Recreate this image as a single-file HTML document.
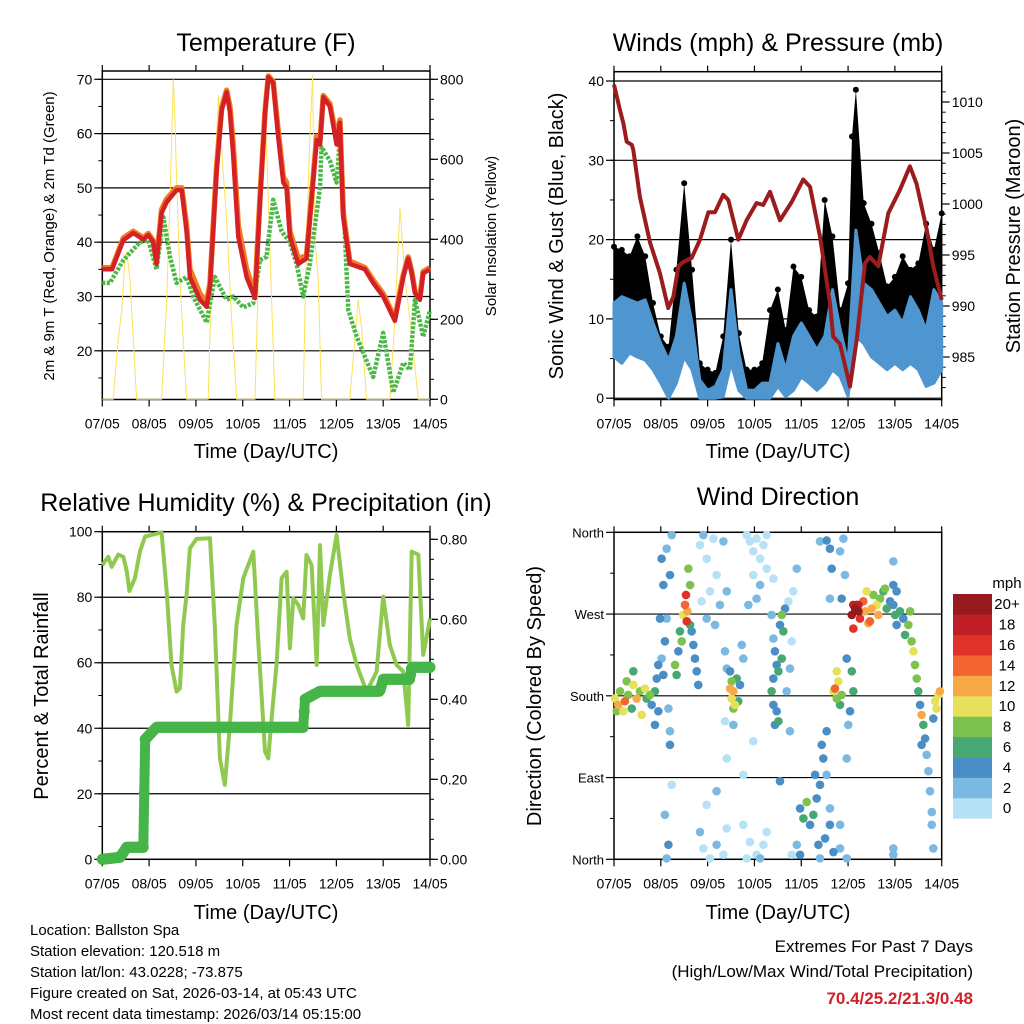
<!DOCTYPE html>
<html><head><meta charset="utf-8"><style>
html,body{margin:0;padding:0;background:#fff;}
svg{display:block;font-family:"Liberation Sans",sans-serif;}
</style></head><body>
<svg id="fig" width="1024" height="1024" viewBox="0 0 1024 1024" xmlns="http://www.w3.org/2000/svg">
<g id="txt" fill="#000">
<text x="266" y="51" font-size="25" text-anchor="middle">Temperature (F)</text>
<text x="778" y="51" font-size="25" text-anchor="middle">Winds (mph) &amp; Pressure (mb)</text>
<text x="266" y="511" font-size="25" text-anchor="middle">Relative Humidity (%) &amp; Precipitation (in)</text>
<text x="778" y="505" font-size="25" text-anchor="middle">Wind Direction</text>
<text x="266" y="458" font-size="20" text-anchor="middle">Time (Day/UTC)</text>
<text x="778" y="458" font-size="20" text-anchor="middle">Time (Day/UTC)</text>
<text x="266" y="919" font-size="20" text-anchor="middle">Time (Day/UTC)</text>
<text x="778" y="919" font-size="20" text-anchor="middle">Time (Day/UTC)</text>
<text transform="translate(54,236) rotate(-90)" font-size="15" text-anchor="middle">2m &amp; 9m T (Red, Orange) &amp; 2m Td (Green)</text>
<text transform="translate(496,236) rotate(-90)" font-size="15" text-anchor="middle">Solar Insolation (Yellow)</text>
<text transform="translate(563,236) rotate(-90)" font-size="20" text-anchor="middle">Sonic Wind &amp; Gust (Blue, Black)</text>
<text transform="translate(1020,236) rotate(-90)" font-size="20" text-anchor="middle">Station Pressure (Maroon)</text>
<text transform="translate(48,696) rotate(-90)" font-size="20" text-anchor="middle">Percent &amp; Total Rainfall</text>
<text transform="translate(541,696) rotate(-90)" font-size="20" text-anchor="middle">Direction (Colored By Speed)</text>
<g font-size="15">
<text x="30" y="935">Location: Ballston Spa</text>
<text x="30" y="956">Station elevation: 120.518 m</text>
<text x="30" y="977">Station lat/lon: 43.0228; -73.875</text>
<text x="30" y="998">Figure created on Sat, 2026-03-14, at 05:43 UTC</text>
<text x="30" y="1019">Most recent data timestamp: 2026/03/14 05:15:00</text>
</g>
<text x="973" y="952" font-size="17" text-anchor="end">Extremes For Past 7 Days</text>
<text x="973" y="977" font-size="17" text-anchor="end">(High/Low/Max Wind/Total Precipitation)</text>
<text x="973" y="1004" font-size="17" font-weight="bold" fill="#d0222a" text-anchor="end">70.4/25.2/21.3/0.48</text>
<text x="1007" y="588" font-size="15" text-anchor="middle">mph</text>
</g>
</svg>
<script>
// ---------- data ----------
const dayLabels=["07/05","08/05","09/05","10/05","11/05","12/05","13/05","14/05"];
const tempT=[0,5,10.8,15.9,21.0,23.6,26.1,27.8,30.4,33.0,38.1,40.7,43.2,44.9,50.1,53.5,55.2,58.6,61.2,63.7,65.4,67.1,69.7,74.0,78.3,80.8,83.4,85.1,87.6,90.2,92.8,94.5,96.2,100.5,104.7,109.9,111.6,113.3,116.7,120.1,121.8,123.5,126.9,134.6,138.9,144.0,150.0,154.3,156.8,158.6,160.3,162.8,164.5,168];
const tempRed=[35,35,40.4,41.7,40.5,41.3,40,36,45.4,47.4,49.6,49.6,42,33.6,29.4,28.1,31.8,53,64.3,67.6,64,56,41,33.6,29.7,47,63.7,70.4,69.3,59.4,51,50,41,36,37,58.8,58,66.7,65,58,62,44.6,36,35,32.5,30,25.5,33.6,37,34.3,30.6,29.4,34.3,35];
const tempOrange=[35.3,35.3,40.8,42,40.8,41.6,40.3,36.5,46,48,50,50,43,35,30.5,29,32.5,54,64.8,68,65,58,43,35,30.5,48,64,70.6,69.6,60.5,52,51,42,37,37.5,59.5,58.5,67,65.5,59,62.5,45.5,36.5,35.3,33,30.5,26,34,37.3,34.6,31,29.8,34.6,35.3];
const dewT=[0,3.9,10.8,19.3,23.6,27.8,31.3,34.7,38.1,43.2,46.6,53.5,57.7,63.7,67.1,72.3,77.4,80.8,84.2,87.6,91.9,96.2,99.6,103.0,106.4,111.6,112.4,116.7,120.1,121.8,123.5,126.1,130.4,138.9,144.0,149.2,154.3,157.7,160.3,164.5,168];
const dewV=[32.5,32.5,36.7,40,40.4,35,44.6,37.3,32.5,33.6,30,25.2,33.6,29.4,30,28,28.8,36.7,37.3,47.8,42,40,36,30,36,50,57.5,55,51,58.8,48.3,27.5,22.6,15.2,23.3,12.3,17.8,16.5,29.4,22.6,27.5];
const solarT=[0,5.6,8.2,9.9,11.6,12.5,14.2,15.9,17.6,30.4,33.0,34.7,36.4,37.2,38.1,39.8,41.5,43.2,54.3,56.0,57.7,59.5,61.2,63.7,66.3,68.9,78.3,80.0,81.7,83.4,85.1,86.8,88.5,103,104.7,106.4,107.8,109,110.7,112.4,126.9,129.5,131.2,132.9,135.5,147.4,150,152.6,155.2,157.7,160.3,162,168];
const solarV=[0,0,150,220,350,370,300,150,0,0,250,500,800,700,550,300,150,0,0,300,550,760,620,450,200,0,0,300,600,740,500,250,0,0,400,650,810,400,300,0,0,150,250,180,0,0,200,480,300,200,80,0,0];
const windT=[0,4,8,12,16,20,24,28,32,36,40,44,48,52,56,60,64,68,72,76,80,84,88,92,96,100,104,108,112,116,120,122,124,128,132,136,140,144,148,152,156,160,164,168];
const windLo=[5.2,4.4,5.7,5.2,4.8,3.6,1.9,0,1.9,5.2,3.6,0,0,0,0.2,4.4,1,0,0,0,0,1.5,0.2,1,2.7,1.9,1,1.9,3.6,2.7,0.2,4.4,7.8,6.9,5.2,4.4,3.6,4.4,3.6,4.4,3.6,1.5,1.9,3.6];
const windHi=[12,12.8,12.4,12,12.4,9.5,6.9,4.8,7.8,14.5,9.5,2.3,1,1.5,3.6,13.7,5.7,1,1,1.9,1.9,6.9,3.6,7.8,9.5,7.8,6.1,7.8,13.7,8.6,4.4,12.8,21.2,14.5,13.7,12,10.3,11.1,9.5,12.8,11.1,8.6,13.7,12];
const gustHi=[19.1,18.7,17.9,20.4,17.9,12,7.8,6.5,16.2,27.1,16.2,4.4,3.6,3.2,7.8,20,8.2,3.6,3.6,4.4,11.1,13.7,8.6,16.6,15.3,11.1,10.3,25,20.4,11.1,14.5,33,38.9,24.6,22,18.3,14.1,15.3,17.9,16.2,17,22,18.7,23.3];
const presT=[0,3.1,4.8,6.5,9.1,9.9,13.3,18.5,23.6,27.8,30.4,33.0,35.5,39.8,44.1,48.4,51.8,56.0,58.6,63.7,68.0,73.1,76.5,80.0,85.1,91.1,97.0,100.5,105.6,110.7,112.4,115.8,121,124.4,128.7,131.2,135.5,140.6,146.6,151.7,155.1,160.3,163.7,168];
const presV=[1011.7,1009.2,1007.9,1006.1,1005.8,1005.3,1000.7,996.2,993.2,989.8,990.9,993.9,994.3,994.7,996.5,999.2,999.2,1000.9,1000.4,996.5,998.4,1000.1,999.9,1001.2,998.4,1000.2,1002.4,1001.7,996.8,990.3,987,986.3,982.1,986.7,994.2,994.8,993.9,999.1,1001.4,1003.7,1002,997.5,993.9,990.6];
const rhT=[0,3.1,4.8,8.2,10.8,12.5,13.9,16.7,19.3,21.9,30.4,33,35.5,38.1,39.8,41.5,43.2,44.9,48.3,55.2,57.7,60.3,62.8,65.4,68.8,72.3,77.4,80,83.4,85.1,86.8,89.3,91.9,94.5,96.2,97.9,100.5,103,104.7,107.3,109.9,111.6,113.3,116.7,120.1,123.5,126.9,130.4,135.5,140.6,144,147.4,150.9,154.3,156.8,158.6,162,164.5,168];
const rhV=[89.8,92.3,89.3,93,92.3,88,81.9,85.8,93.9,98.5,99.8,81.7,59.3,51.2,52.2,71.5,80.7,94.9,97.8,98,71.5,30.8,22.7,41,71.5,85.8,93.9,66.4,32.9,30.8,43,59.3,85.8,87.8,64.4,79.7,77.6,73.5,92.9,89.8,59.3,95.9,71.5,86.8,99,81.7,67.4,59.3,51.2,57.3,80.2,65.4,59.3,57.3,41,93.9,93,62.4,73.5];
const precT=[0,9.1,12.5,21,22,27.8,103,103.9,111.6,142.3,144,157.7,158.6,168];
const precV=[0,0.005,0.03,0.03,0.30,0.33,0.33,0.40,0.42,0.42,0.45,0.45,0.48,0.48];
const dirHour=[0.5,2.2,3.1,4.8,5.6,7.3,9.1,9.9,11.6,13.3,14.2,15.9,16.7,18.5,19.3,21,21.9,22.7,21,9.9,1.4,6.5,
24.4,25.3,27,26.1,24.4,25.3,27,28.7,29.6,27.9,28.7,28.7,23.6,22.7,26.1,27.9,27,29.6,
31.3,32.1,33,33.8,35.5,36.4,36.9,37.6,38.1,39,39.8,40.7,41.5,42.4,43.2,34.7,37.3,39,
44.1,45.8,47.5,49.2,50.9,52.6,54.3,56.1,57.8,44.9,47.5,51.8,44.1,45.8,49.2,52.6,56.1,57.8,47.5,52.6,56.9,57.8,56.9,57.8,
59.5,60.3,61.2,62,62.9,60.3,61.2,63.7,64.6,65.5,66.3,59.5,61.2,
68,69.7,71.4,73.1,74.9,76.6,78.3,71.4,74.9,78.3,73.1,68.9,81.7,66.3,69.7,73.1,76.6,78.3,68,74.9,71.4,66.3,85.1,
80.8,81.7,82.5,83.4,84.3,85.1,86,86.8,87.7,86,81.7,80.8,81.7,83.4,84.3,82.5,90.2,88.5,90.2,91.1,89.4,91.9,93.7,
95.4,97.1,98.8,100.5,102.2,103.9,105.6,107.3,106.5,109,104.8,108.2,110.7,112.5,110.7,103.1,109,93.7,91.1,95.4,105.6,115.9,119.3,115.9,
112.5,113.3,114.2,115,115.9,116.7,114.2,122.7,121.9,121,120.1,119.3,118.4,117.6,115.9,110.7,111.6,110.7,105.6,109,116.7,119.3,
121.9,123.6,125.3,124.4,126.1,127.8,128.7,129.5,131.2,132.1,133,134.7,135.5,136.4,138.1,138.9,139.8,141.5,143.2,144.1,144.9,146.6,148.3,144.9,143.2,122.7,125.3,130.4,122.7,
149.2,150.9,151.8,152.6,153.5,154.3,155.2,156,156.9,157.7,158.6,159.5,157.7,160.3,161.2,162,162.9,162.9,163.7,164.6,165.4,166.3,167.1,163.7,143.2,143.2,143.2];
const dirDeg=[177,170,185,163,174,181,166,192,177,185,159,188,177,181,170,185,199,163,148,207,163,196,
331,302,265,240,221,203,342,313,357,166,141,126,265,214,49,16,1,82,
214,203,229,251,269,280,291,273,320,302,251,236,221,207,192,240,262,258,
346,357,331,295,353,313,280,350,295,284,265,258,30,12,1,16,5,34,60,75,229,210,152,111,
188,177,185,170,199,196,166,174,192,236,221,207,148,
357,350,339,353,331,346,357,313,302,320,287,280,309,38,19,5,16,30,1,1,130,93,86,
269,243,229,214,207,258,269,251,276,221,199,185,170,163,152,148,141,185,210,240,284,295,320,
56,45,63,38,49,67,82,111,126,141,16,23,38,8,56,93,93,16,5,5,1,12,1,38,
185,188,177,196,170,181,207,185,207,163,148,221,313,353,339,342,320,287,350,351,287,111,
269,276,273,280,265,284,273,295,262,276,291,280,269,287,295,298,276,284,280,269,258,273,265,295,302,254,280,260,280,
247,258,273,240,229,214,199,185,170,159,148,133,126,115,97,75,52,38,12,174,166,181,185,155,328,12,5];
const dirSpeed=[10,12,8,10,14,8,6,10,12,8,10,10,6,8,4,6,4,4,4,6,8,8,
4,4,2,4,2,4,2,4,2,2,2,4,4,4,2,4,2,0,
8,6,4,6,10,14,16,12,8,8,4,4,4,4,4,8,16,6,
0,2,0,0,0,0,2,2,2,0,2,2,2,0,0,2,0,0,0,2,2,2,0,0,
12,10,12,10,6,8,8,6,4,2,2,4,2,
0,0,0,0,0,0,0,0,2,0,2,2,0,0,0,0,0,0,0,2,0,0,4,
2,2,4,4,6,4,8,6,4,6,4,6,4,4,6,4,2,2,2,0,0,0,2,
4,6,8,4,6,4,4,4,4,4,4,4,4,4,2,4,2,2,0,4,2,2,2,2,
10,14,8,10,6,8,10,6,6,4,2,4,2,2,2,4,4,2,2,4,4,2,
20,20,20,18,16,14,12,10,14,12,8,10,12,8,6,8,6,4,4,6,4,6,4,4,4,16,18,12,18,
6,8,8,8,10,8,8,6,4,12,6,4,4,2,2,2,2,2,2,10,10,10,12,4,2,2,2];
const cbarLabels=["0","2","4","6","8","10","12","14","16","18","20+"];
const cbarColors=["#b6e1f7","#7bb9e3","#4a8ec6","#47a874","#7dc24e","#e6e05a","#f9a847","#f26430","#e03228","#c01f28","#951b1e"];

// ---------- helpers ----------
const NS="http://www.w3.org/2000/svg", svg=document.getElementById('fig');
function mk(tag,attrs,parent){const e=document.createElementNS(NS,tag);for(const k in attrs)e.setAttribute(k,attrs[k]);(parent||svg).appendChild(e);return e;}
function pts(ts,vs,fx,fy){return ts.map((t,i)=>fx(t).toFixed(1)+','+fy(vs[i]).toFixed(1)).join(' ');}
function interp(ts,vs,t){for(let i=1;i<ts.length;i++){if(t<=ts[i]){const f=(t-ts[i-1])/(ts[i]-ts[i-1]||1);return vs[i-1]+f*(vs[i]-vs[i-1]);}}return vs[vs.length-1];}

function frame(x0,x1,y0,y1,name){
  const g=mk('g',{});
  
  
  const r=mk('rect',{x:x0,y:y0,width:x1-x0,height:y1-y0,fill:'none',stroke:'#000','stroke-width':1.5},g);
  
  
  dayLabels.forEach((lab,i)=>{
    const x=x0+(x1-x0)*i/7;
    mk('line',{x1:x,x2:x,y1:y1,y2:y1+7,stroke:'#000','stroke-width':1.2},g);
    mk('line',{x1:x,x2:x,y1:y0,y2:y0-6,stroke:'#000','stroke-width':1.2},g);
    const t=mk('text',{x:x,y:y1+29,'font-size':14,'text-anchor':'middle'},g);
    t.textContent=lab;
    
    
  });
  return g;
}
function yAxis(g,x,vals,fy,labs,side,minorVals,gridX0,gridX1,fs){
  vals.forEach((v,i)=>{
    const y=fy(v);
    if(gridX0!=null) mk('line',{x1:gridX0,x2:gridX1,y1:y,y2:y,stroke:'#000','stroke-width':1.2},g);
    mk('line',{x1:x,x2:x+(side<0?-8:8),y1:y,y2:y,stroke:'#000','stroke-width':1.2},g);
    const t=mk('text',{x:x+(side<0?-10:10),y:y+5,'font-size':fs||14,'text-anchor':side<0?'end':'start'},g);
    t.textContent=labs[i];
    
    
  });
  (minorVals||[]).forEach(v=>{const y=fy(v);mk('line',{x1:x,x2:x+(side<0?-4:4),y1:y,y2:y,stroke:'#000','stroke-width':1},g);});
}
function range(a,b,s){const r=[];for(let v=a;v<=b+1e-9;v+=s)r.push(+v.toFixed(3));return r;}

// ---------- panel 1: temperature ----------
(function(){
  const x0=102.3,x1=430,y0=71,y1=399.5;
  const fx=h=>x0+(x1-x0)*h/168, fy=T=>79.3+(70-T)*5.43, fs=v=>399.3-v*0.4;
  const g=frame(x0,x1,y0,y1,'temperature');
  const tv=[20,30,40,50,60,70];
  yAxis(g,x0,tv,fy,tv.map(String),-1,range(15,70,5),x0,x1);
  const sv=[0,200,400,600,800];
  yAxis(g,x1,sv,fs,sv.map(String),1,range(0,800,50));
  const sol=mk('polyline',{points:pts(solarT,solarV,fx,fs),fill:'none',stroke:'#fde25a','stroke-width':1});
  
  
  const dew=mk('polyline',{points:pts(dewT,dewV,fx,fy),fill:'none',stroke:'#4cb848','stroke-width':4.5,'stroke-dasharray':'3 1.5','stroke-linejoin':'round'});
  
  
  const or=mk('polyline',{points:pts(tempT,tempOrange,fx,fy),fill:'none',stroke:'#f47b20','stroke-width':5.5,'stroke-linejoin':'round'});
  
  
  const rd=mk('polyline',{points:pts(tempT,tempRed,fx,fy),fill:'none',stroke:'#d42027','stroke-width':4.5,'stroke-linejoin':'round'});
  
  
})();

// ---------- panel 2: winds & pressure ----------
(function(){
  const x0=614,x1=941.7,y0=71.7,y1=399.5;
  const fx=h=>x0+(x1-x0)*h/168, fy=v=>398.2-v*7.93, fp=p=>306-(p-990)*10.2;
  const g=frame(x0,x1,y0,y1,'winds');
  const wv=[0,10,20,30,40];
  yAxis(g,x0,wv,fy,wv.map(String),-1,range(0,40,5),x0,x1);
  const pv=[985,990,995,1000,1005,1010];
  yAxis(g,x1,pv,fp,pv.map(String),1,range(982,1011,1));
  const band=pts(windT,gustHi,fx,fy)+' '+pts(windT.slice().reverse(),windLo.slice().reverse(),fx,fy);
  const gb=mk('polygon',{points:band,fill:'#000'});
  
  
  windT.forEach((t,i)=>{
    const c=mk('circle',{cx:fx(t),cy:fy(gustHi[i]),r:3,fill:'#000'});
    
    
  });
  const wb=pts(windT,windHi,fx,fy)+' '+pts(windT.slice().reverse(),windLo.slice().reverse(),fx,fy);
  const bb=mk('polygon',{points:wb,fill:'#4f96d0',stroke:'#4f96d0','stroke-width':3,'stroke-linejoin':'round'});
  
  
  const pl=mk('polyline',{points:pts(presT,presV,fx,fp),fill:'none',stroke:'#9b1c1f','stroke-width':4,'stroke-linejoin':'round'});
  
  
})();

// ---------- panel 3: humidity & precip ----------
(function(){
  const x0=102.3,x1=430,y0=531.7,y1=859.3;
  const fx=h=>x0+(x1-x0)*h/168, fy=v=>859.3-v*3.276, fq=v=>859.3-v*400;
  const g=frame(x0,x1,y0,y1,'humidity');
  const rv=[0,20,40,60,80,100];
  yAxis(g,x0,rv,fy,rv.map(String),-1,range(0,100,10),x0,x1);
  const qv=[0,0.2,0.4,0.6,0.8];
  yAxis(g,x1,qv,fq,qv.map(v=>v.toFixed(2)),1,range(0,0.8,0.05));
  const rh=mk('polyline',{points:pts(rhT,rhV,fx,fy),fill:'none',stroke:'#8fc94f','stroke-width':4,'stroke-linejoin':'round'});
  
  
  const pq=mk('polyline',{points:pts(precT,precV,fx,fq),fill:'none',stroke:'#46b549','stroke-width':10,'stroke-linejoin':'round','stroke-linecap':'round'});
  
  
  for(let t=0;t<=168;t+=0.5){
    const c=mk('circle',{cx:fx(t),cy:fq(interp(precT,precV,t)),r:5.5,fill:'#46b549'});
    
    
  }
})();

// ---------- panel 4: wind direction ----------
(function(){
  const x0=614,x1=941.7,y0=532.3,y1=859.3;
  const fx=h=>x0+(x1-x0)*h/168, fy=d=>859.3-d*0.9083;
  const g=frame(x0,x1,y0,y1,'direction');
  const dv=[0,90,180,270,360];
  yAxis(g,x0,dv,fy,["North","East","South","West","North"],-1,[45,135,225,315],x0,x1,13);
  const idx=s=>Math.min(10,Math.max(0,Math.round(s/2)));
  const order=dirSpeed.map((s,i)=>i).sort((a,b)=>dirSpeed[a]-dirSpeed[b]);
  order.forEach(i=>{
    const c=mk('circle',{cx:fx(dirHour[i]),cy:fy(dirDeg[i]),r:4.3,fill:cbarColors[idx(dirSpeed[i])]});
    
    
  });
  const cg=mk('g',{});
  
  
  const top=594,bh=20.4;
  cbarLabels.forEach((lab,i)=>{
    const y=top+(10-i)*bh;
    const r=mk('rect',{x:953,y:y,width:39,height:bh+0.3,fill:cbarColors[i]},cg);
    
    
    const t=mk('text',{x:1007,y:y+bh/2+5,'font-size':15,'text-anchor':'middle'},cg);
    t.textContent=lab;
    
    
  });
})();
</script>
</body></html>
